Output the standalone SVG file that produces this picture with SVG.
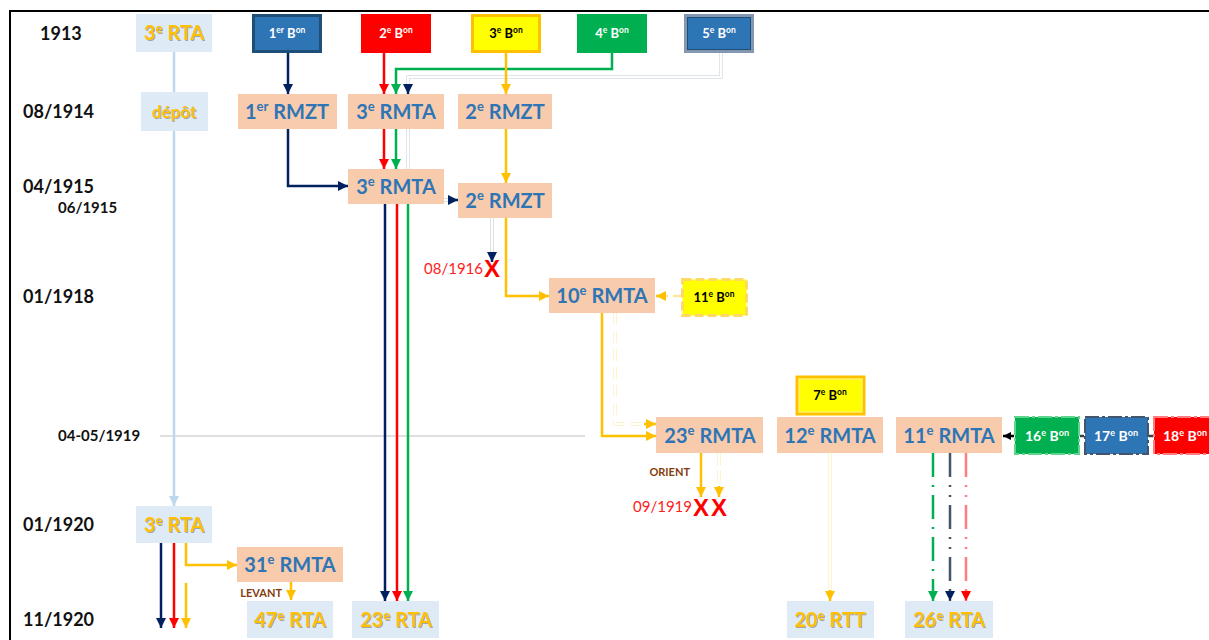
<svg xmlns="http://www.w3.org/2000/svg" width="1209" height="640" viewBox="0 0 1209 640">
<defs>
<style>
.yr{font-family:Lato,"Liberation Sans",sans-serif;font-weight:bold;font-size:18px;fill:#111}
.yrs{font-family:Lato,"Liberation Sans",sans-serif;font-weight:bold;font-size:15px;fill:#111}
.pe{fill:#F8CBAD}
.lb{fill:#DEEAF6}
.tb{font-family:Lato,"Liberation Sans",sans-serif;font-weight:bold;font-size:20px;fill:#2E75B6;text-anchor:middle}
.tg{font-family:Lato,"Liberation Sans",sans-serif;font-weight:bold;font-size:20px;fill:#FFC000;text-anchor:middle;filter:url(#sh)}
.bn{font-family:Lato,"Liberation Sans",sans-serif;font-weight:bold;font-size:13px;text-anchor:middle}
.sup{font-size:65%}
.c{fill:none;stroke-width:2.5}
.red{font-family:Lato,"Liberation Sans",sans-serif;font-size:15px;fill:#FF2020}
.x{font-family:"Liberation Sans",sans-serif;font-weight:bold;font-size:24px;fill:#FF0000}
.br{font-family:Lato,"Liberation Sans",sans-serif;font-weight:bold;font-size:11px;fill:#843C0C}
</style>
<filter id="sh" x="-10%" y="-10%" width="130%" height="140%"><feDropShadow dx="1" dy="1" stdDeviation="0.6" flood-color="#777" flood-opacity="0.6"/></filter>
<marker id="aN" viewBox="0 0 10 10" refX="10" refY="5" markerWidth="10" markerHeight="10" markerUnits="userSpaceOnUse" orient="auto"><path d="M0,0L10,5L0,10z" fill="#002060"/></marker>
<marker id="aR" viewBox="0 0 10 10" refX="10" refY="5" markerWidth="10" markerHeight="10" markerUnits="userSpaceOnUse" orient="auto"><path d="M0,0L10,5L0,10z" fill="#FF0000"/></marker>
<marker id="aG" viewBox="0 0 10 10" refX="10" refY="5" markerWidth="10" markerHeight="10" markerUnits="userSpaceOnUse" orient="auto"><path d="M0,0L10,5L0,10z" fill="#00B050"/></marker>
<marker id="aO" viewBox="0 0 10 10" refX="10" refY="5" markerWidth="10" markerHeight="10" markerUnits="userSpaceOnUse" orient="auto"><path d="M0,0L10,5L0,10z" fill="#FFC000"/></marker>
<marker id="aL" viewBox="0 0 10 10" refX="10" refY="5" markerWidth="10" markerHeight="10" markerUnits="userSpaceOnUse" orient="auto"><path d="M0,0L10,5L0,10z" fill="#BDD7EE"/></marker>
<marker id="aK" viewBox="0 0 10 10" refX="10" refY="5" markerWidth="8" markerHeight="8" markerUnits="userSpaceOnUse" orient="auto"><path d="M0,0L10,5L0,10z" fill="#000"/></marker>
</defs>
<rect width="1209" height="640" fill="#fff"/>
<path d="M10,640V11H1209" fill="none" stroke="#000" stroke-width="2"/>

<g id="years">
<text class="yr" x="40" y="40">1913</text>
<text class="yr" x="23" y="118">08/1914</text>
<text class="yr" x="23" y="193">04/1915</text>
<text class="yrs" x="58" y="213">06/1915</text>
<text class="yr" x="23" y="303">01/1918</text>
<text class="yrs" x="58" y="441">04-05/1919</text>
<text class="yr" x="23" y="531">01/1920</text>
<text class="yr" x="23" y="626">11/1920</text>
</g>
<line x1="160" y1="436" x2="585" y2="436" stroke="#BFBFBF" stroke-width="1.2"/>

<g id="connectors">
<path class="c" d="M174,52V92" stroke="#BDD7EE" stroke-width="3"/>
<path class="c" d="M174,131V506" stroke="#BDD7EE" stroke-width="3" marker-end="url(#aL)"/>
<path class="c" d="M288,53V94" stroke="#002060" marker-end="url(#aN)"/>
<path class="c" d="M288,129V186H348" stroke="#002060" marker-end="url(#aN)"/>
<path class="c" d="M384,53V94" stroke="#FF0000" marker-end="url(#aR)"/>
<path class="c" d="M384,129V169" stroke="#FF0000" marker-end="url(#aR)"/>
<path class="c" d="M612,53V69H396V94" stroke="#00B050" marker-end="url(#aG)"/>
<path class="c" d="M396,129V169" stroke="#00B050" marker-end="url(#aG)"/>
<path class="c" d="M721,53V77H408V88" stroke="#5A6E96" stroke-width="4.5"/>
<path class="c" d="M721,53V77H408V88" stroke="#fff" stroke-width="1"/>
<path class="c" d="M408,86V94" stroke="#002060" stroke-width="1.5" marker-end="url(#aN)"/>
<path class="c" d="M408,129V169" stroke="#5A6E96" stroke-width="4.5"/>
<path class="c" d="M408,129V169" stroke="#fff" stroke-width="1"/>
<path class="c" d="M444,200H451" stroke="#44546A" stroke-width="4.5"/>
<path class="c" d="M444,200H451" stroke="#fff" stroke-width="1"/>
<path class="c" d="M449,200H458" stroke="#002060" stroke-width="1.5" marker-end="url(#aN)"/>
<path class="c" d="M492,218V255" stroke="#44546A" stroke-width="4.5"/>
<path class="c" d="M492,218V255" stroke="#fff" stroke-width="1"/>
<path class="c" d="M492,252V262" stroke="#002060" stroke-width="1.5" marker-end="url(#aN)"/>
<path class="c" d="M506,53V94" stroke="#FFC000" marker-end="url(#aO)"/>
<path class="c" d="M506,129V183" stroke="#FFC000" marker-end="url(#aO)"/>
<path class="c" d="M506,218V296H549" stroke="#FFC000" marker-end="url(#aO)"/>
<path class="c" d="M681,296H666" stroke="#FFE699" stroke-width="3" stroke-dasharray="8,5"/>
<path class="c" d="M664,296H656" stroke="#FFC000" marker-end="url(#aO)"/>
<path class="c" d="M602,313V436H656" stroke="#FFC000" marker-end="url(#aO)"/>
<path class="c" d="M615,313V424H646" stroke="#FFC000" stroke-width="4.5" stroke-dasharray="12,6"/>
<path class="c" d="M615,313V424H646" stroke="#fff" stroke-width="1"/>
<path class="c" d="M644,424H656" stroke="#FFC000" stroke-width="2" marker-end="url(#aO)"/>
<path class="c" d="M701,453V497" stroke="#FFC000" marker-end="url(#aO)"/>
<path class="c" d="M719,453V488" stroke="#FFC000" stroke-width="4.5" stroke-dasharray="12,5"/>
<path class="c" d="M719,453V488" stroke="#fff" stroke-width="1"/>
<path class="c" d="M719,486V497" stroke="#FFC000" stroke-width="2" marker-end="url(#aO)"/>
<path class="c" d="M830,453V592" stroke="#FFC000" stroke-width="4.5"/>
<path class="c" d="M830,453V592" stroke="#fff" stroke-width="1"/>
<path class="c" d="M830,590V601" stroke="#FFC000" stroke-width="2" marker-end="url(#aO)"/>
<path class="c" d="M933,453V601" stroke="#00B050" stroke-width="2.5" stroke-dasharray="24,8,2,8" marker-end="url(#aG)"/>
<path class="c" d="M950,453V601" stroke="#44546A" stroke-width="2.5" stroke-dasharray="24,8,2,8,2,8" marker-end="url(#aN)"/>
<path class="c" d="M966,453V601" stroke="#FF7C80" stroke-width="2.5" stroke-dasharray="24,8,2,8,2,8" marker-end="url(#aR)"/>
<path class="c" d="M1014,436H1003" stroke="#000" stroke-width="1.5" marker-end="url(#aK)"/>
<path class="c" d="M1080,436H1084M1149,436H1153" stroke="#404040" stroke-width="1.5"/>
<path class="c" d="M385,204V601" stroke="#002060" marker-end="url(#aN)"/>
<path class="c" d="M397,204V601" stroke="#FF0000" marker-end="url(#aR)"/>
<path class="c" d="M408,204V601" stroke="#00B050" marker-end="url(#aG)"/>
<path class="c" d="M161,543V628" stroke="#002060" marker-end="url(#aN)"/>
<path class="c" d="M174,543V628" stroke="#FF0000" marker-end="url(#aR)"/>
<path class="c" d="M186,543V565H237" stroke="#FFC000" marker-end="url(#aO)"/>
<path class="c" d="M186,583V628" stroke="#FFC000" marker-end="url(#aO)"/>
<path class="c" d="M291,582V600" stroke="#FFC000" marker-end="url(#aO)"/>
</g>

<g id="n-3rta-1913"><rect class="lb" x="136" y="14" width="76" height="38"/><text class="tg" x="174" y="40">3<tspan class="sup" dy="-7">e</tspan><tspan dy="7"> RTA</tspan></text></g>
<g id="n-depot"><rect class="lb" x="141" y="92" width="67" height="39"/><text class="tg" x="174" y="118" style="font-size:17px">dépôt</text></g>
<g id="n-b1"><rect x="253.5" y="15.5" width="67" height="36" fill="#2E75B6" stroke="#1F4E79" stroke-width="3"/><text class="bn" x="287" y="38" fill="#fff">1<tspan class="sup" dy="-5">er</tspan><tspan dy="5"> B</tspan><tspan class="sup" dy="-5">on</tspan></text></g>
<g id="n-b2"><rect x="361" y="14" width="70" height="39" fill="#FF0000"/><text class="bn" x="396" y="38" fill="#fff">2<tspan class="sup" dy="-5">e</tspan><tspan dy="5"> B</tspan><tspan class="sup" dy="-5">on</tspan></text></g>
<g id="n-b3"><rect x="472.5" y="15.5" width="67" height="36" fill="#FFFF00" stroke="#FFC000" stroke-width="3"/><text class="bn" x="506" y="38" fill="#000">3<tspan class="sup" dy="-5">e</tspan><tspan dy="5"> B</tspan><tspan class="sup" dy="-5">on</tspan></text></g>
<g id="n-b4"><rect x="577" y="14" width="70" height="39" fill="#00B050"/><text class="bn" x="612" y="38" fill="#fff">4<tspan class="sup" dy="-5">e</tspan><tspan dy="5"> B</tspan><tspan class="sup" dy="-5">on</tspan></text></g>
<g id="n-b5"><rect x="685.5" y="15.5" width="67" height="36" fill="#2E75B6" stroke="#8497B0" stroke-width="3"/><rect x="687.5" y="17.5" width="63" height="32" fill="none" stroke="#1F4E79" stroke-width="1"/><text class="bn" x="719" y="38" fill="#fff">5<tspan class="sup" dy="-5">e</tspan><tspan dy="5"> B</tspan><tspan class="sup" dy="-5">on</tspan></text></g>

<g id="n-1rmzt"><rect class="pe" x="238" y="94" width="99" height="35"/><text class="tb" x="287" y="119">1<tspan class="sup" dy="-8">er</tspan><tspan dy="8"> RMZT</tspan></text></g>
<g id="n-3rmta-1914"><rect class="pe" x="348" y="94" width="96" height="35"/><text class="tb" x="396" y="119">3<tspan class="sup" dy="-8">e</tspan><tspan dy="8"> RMTA</tspan></text></g>
<g id="n-2rmzt-1914"><rect class="pe" x="458" y="94" width="94" height="35"/><text class="tb" x="505" y="119">2<tspan class="sup" dy="-8">e</tspan><tspan dy="8"> RMZT</tspan></text></g>
<g id="n-3rmta-1915"><rect class="pe" x="348" y="169" width="96" height="35"/><text class="tb" x="396" y="194">3<tspan class="sup" dy="-8">e</tspan><tspan dy="8"> RMTA</tspan></text></g>
<g id="n-2rmzt-1915"><rect class="pe" x="458" y="183" width="94" height="35"/><text class="tb" x="505" y="208">2<tspan class="sup" dy="-8">e</tspan><tspan dy="8"> RMZT</tspan></text></g>

<g id="lbl-1916"><text class="red" x="483" y="274" text-anchor="end">08/1916</text><text class="x" x="492" y="277" text-anchor="middle">X</text></g>

<g id="n-10rmta"><rect class="pe" x="549" y="278" width="106" height="35"/><text class="tb" x="602" y="303">10<tspan class="sup" dy="-8">e</tspan><tspan dy="8"> RMTA</tspan></text></g>
<g id="n-b11"><rect x="682.5" y="279.5" width="64" height="36" fill="#FFFF00" stroke="#FFD966" stroke-width="3" stroke-dasharray="9,4"/><text class="bn" x="714" y="302" fill="#000">11<tspan class="sup" dy="-5">e</tspan><tspan dy="5"> B</tspan><tspan class="sup" dy="-5">on</tspan></text></g>

<g id="n-b7"><rect x="797" y="377" width="67" height="37" fill="#FFFF00" stroke="#FFC000" stroke-width="3"/><rect x="799" y="379" width="63" height="33" fill="none" stroke="#FFE699" stroke-width="1"/><text class="bn" x="830" y="400" fill="#000">7<tspan class="sup" dy="-5">e</tspan><tspan dy="5"> B</tspan><tspan class="sup" dy="-5">on</tspan></text></g>
<g id="n-23rmta"><rect class="pe" x="656" y="417" width="107" height="36"/><text class="tb" x="710" y="443">23<tspan class="sup" dy="-8">e</tspan><tspan dy="8"> RMTA</tspan></text></g>
<g id="n-12rmta"><rect class="pe" x="777" y="417" width="106" height="36"/><text class="tb" x="830" y="443">12<tspan class="sup" dy="-8">e</tspan><tspan dy="8"> RMTA</tspan></text></g>
<g id="n-11rmta"><rect class="pe" x="896" y="417" width="106" height="36"/><text class="tb" x="949" y="443">11<tspan class="sup" dy="-8">e</tspan><tspan dy="8"> RMTA</tspan></text></g>
<g id="n-b16"><rect x="1015" y="417" width="64" height="37" fill="#00B050" stroke="#5CD68A" stroke-width="2" stroke-dasharray="14,3,3,3"/><text class="bn" x="1047" y="441" fill="#fff" style="font-size:14px">16<tspan class="sup" dy="-5">e</tspan><tspan dy="5"> B</tspan><tspan class="sup" dy="-5">on</tspan></text></g>
<g id="n-b17"><rect x="1085" y="417" width="63" height="37" fill="#2E75B6" stroke="#44546A" stroke-width="2" stroke-dasharray="14,3,3,3"/><text class="bn" x="1116" y="441" fill="#fff" style="font-size:14px">17<tspan class="sup" dy="-5">e</tspan><tspan dy="5"> B</tspan><tspan class="sup" dy="-5">on</tspan></text></g>
<g id="n-b18"><rect x="1154" y="417" width="62" height="37" fill="#FF0000" stroke="#FF7C80" stroke-width="2" stroke-dasharray="14,3,3,3"/><text class="bn" x="1185" y="441" fill="#fff" style="font-size:14px">18<tspan class="sup" dy="-5">e</tspan><tspan dy="5"> B</tspan><tspan class="sup" dy="-5">on</tspan></text></g>

<g id="lbl-orient"><text class="br" x="690" y="476" text-anchor="end">ORIENT</text></g>
<g id="lbl-1919"><text class="red" x="692" y="512" text-anchor="end">09/1919</text><text class="x" x="701" y="516" text-anchor="middle">X</text><text class="x" x="719" y="516" text-anchor="middle">X</text></g>

<g id="n-3rta-1920"><rect class="lb" x="136" y="506" width="76" height="37"/><text class="tg" x="174" y="532">3<tspan class="sup" dy="-7">e</tspan><tspan dy="7"> RTA</tspan></text></g>
<g id="n-31rmta"><rect class="pe" x="237" y="547" width="106" height="35"/><text class="tb" x="290" y="572">31<tspan class="sup" dy="-8">e</tspan><tspan dy="8"> RMTA</tspan></text></g>
<g id="lbl-levant"><text class="br" x="282" y="597" text-anchor="end">LEVANT</text></g>
<g id="n-47rta"><rect class="lb" x="247" y="601" width="86" height="37"/><text class="tg" x="290" y="627">47<tspan class="sup" dy="-7">e</tspan><tspan dy="7"> RTA</tspan></text></g>
<g id="n-23rta"><rect class="lb" x="352" y="601" width="87" height="37"/><text class="tg" x="396" y="627">23<tspan class="sup" dy="-7">e</tspan><tspan dy="7"> RTA</tspan></text></g>
<g id="n-20rtt"><rect class="lb" x="787" y="601" width="87" height="37"/><text class="tg" x="830" y="627">20<tspan class="sup" dy="-7">e</tspan><tspan dy="7"> RTT</tspan></text></g>
<g id="n-26rta"><rect class="lb" x="905" y="601" width="88" height="37"/><text class="tg" x="949" y="627">26<tspan class="sup" dy="-7">e</tspan><tspan dy="7"> RTA</tspan></text></g>
</svg>
